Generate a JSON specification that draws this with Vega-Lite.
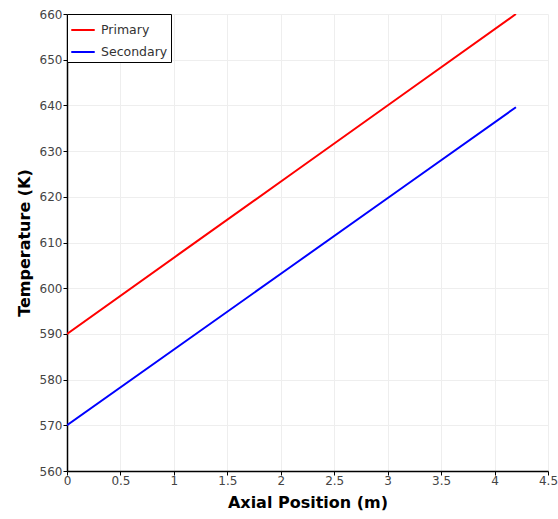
{
  "$schema": "https://vega.github.io/schema/vega-lite/v6.json",
  "width": 481,
  "height": 457,
  "autosize": {"type": "none"},
  "padding": {"left": 67, "top": 14, "right": 10, "bottom": 48},
  "background": "white",
  "config": {
    "view": {"stroke": null},
    "font": "DejaVu Sans"
  },
  "data": {
    "values": [
      {"x": 0, "T": 590, "series": "Primary"},
      {"x": 1.05, "T": 607.5, "series": "Primary"},
      {"x": 2.1, "T": 625, "series": "Primary"},
      {"x": 3.15, "T": 642.5, "series": "Primary"},
      {"x": 4.2, "T": 660, "series": "Primary"},
      {"x": 0, "T": 570, "series": "Secondary"},
      {"x": 1.05, "T": 587.4, "series": "Secondary"},
      {"x": 2.1, "T": 604.8, "series": "Secondary"},
      {"x": 3.15, "T": 622.2, "series": "Secondary"},
      {"x": 4.2, "T": 639.6, "series": "Secondary"}
    ]
  },
  "mark": {"type": "line", "strokeWidth": 2, "clip": true},
  "encoding": {
    "x": {
      "field": "x", "type": "quantitative",
      "scale": {"domain": [0, 4.5], "nice": false, "zero": false},
      "axis": {
        "title": "Axial Position (m)",
        "titleFontSize": 16, "titleFontWeight": "bold", "titleColor": "black",
        "titlePadding": 8,
        "values": [0, 0.5, 1, 1.5, 2, 2.5, 3, 3.5, 4, 4.5],
        "format": "~g",
        "labelFontSize": 12, "labelColor": "#444", "labelPadding": 0,
        "labelFlush": false,
        "tickColor": "black", "tickSize": 4, "domainColor": "black", "domainWidth": 1.5,
        "gridColor": "#eeeeee", "gridWidth": 1
      }
    },
    "y": {
      "field": "T", "type": "quantitative",
      "scale": {"domain": [560, 660], "nice": false, "zero": false},
      "axis": {
        "title": "Temperature (K)",
        "titleFontSize": 16, "titleFontWeight": "bold", "titleColor": "black",
        "titlePadding": 7,
        "values": [560, 570, 580, 590, 600, 610, 620, 630, 640, 650, 660],
        "labelFontSize": 12, "labelColor": "#444", "labelPadding": 1,
        "labelFlush": false,
        "tickColor": "black", "tickSize": 4, "domainColor": "black", "domainWidth": 1.5,
        "gridColor": "#eeeeee", "gridWidth": 1
      }
    },
    "color": {
      "field": "series", "type": "nominal",
      "scale": {"domain": ["Primary", "Secondary"], "range": ["#ff0000", "#0000ff"]},
      "legend": {
        "title": null,
        "orient": "none",
        "legendX": 0,
        "legendY": 0,
        "symbolType": "stroke",
        "symbolStrokeWidth": 2,
        "symbolSize": 550,
        "labelFontSize": 12.5,
        "labelOffset": 5,
        "labelColor": "#333",
        "strokeColor": "black",
        "fillColor": "white",
        "padding": 3,
        "rowPadding": 2
      }
    }
  }
}
